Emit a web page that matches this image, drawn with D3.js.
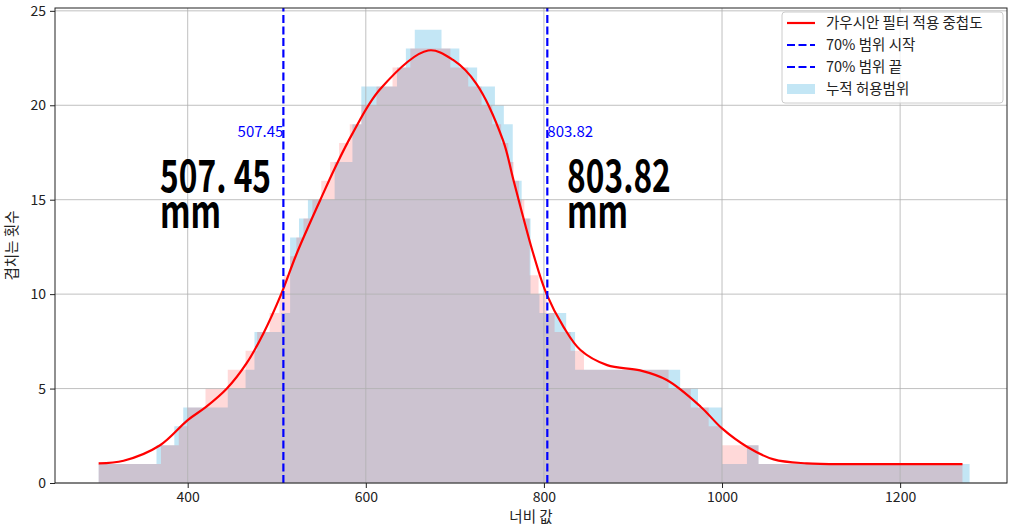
<!DOCTYPE html>
<html>
<head>
<meta charset="utf-8">
<script src="https://cdn.jsdelivr.net/npm/d3@7"></script>
<style>
  body { margin: 0; background: #fff; }
  svg { display: block; }
  text { font-family: "Noto Sans CJK KR", "Noto Sans", sans-serif; }
</style>
</head>
<body>
<svg id="chart" width="1009" height="528"></svg>
<script>
// bins of the accumulated range (left edges, last value is the right end)
const blueEdges = [300, 365, 385, 395, 445, 465, 475, 505, 515, 525, 535, 565, 585, 595, 635, 645, 655, 685, 705, 725,
                   745, 755, 765, 775, 785, 795, 805, 825, 835, 953, 973, 1000, 1028, 1041, 1278];
const blueCounts = [1, 2, 3, 4, 5, 6, 8, 9, 13, 14, 15, 17, 19, 21, 22, 23, 24, 23, 22, 21,
                    20, 19, 16, 14, 10, 9, 9, 8, 6, 5, 4, 1, 2, 1];

// stepped overlap after filtering
const pinkEdges = [300, 370, 390, 400, 420, 445, 465, 478, 492, 503, 508, 515, 522, 530, 540, 550, 560, 570, 582, 595,
                   612, 630, 650, 695, 715, 730, 742, 752, 760, 766, 772, 778, 784, 794, 803, 812, 830, 845, 940, 965,
                   985, 1000, 1041, 1270];
const pinkCounts = [1, 2, 3, 4, 5, 6, 7, 8, 9, 10, 11, 12, 13, 14, 15, 16, 17, 18, 19, 20,
                    21, 22, 23, 22, 21, 20, 19, 18, 17, 16, 15, 14, 11, 10, 9, 8, 7, 6, 5, 4,
                    3, 2, 1];

// gaussian filtered curve
const curveX = [300, 328, 369, 400, 421, 444, 466, 485, 505, 522, 549, 566, 585, 616, 670, 698, 724, 754,
                766, 788, 803, 822, 841, 871, 908, 938, 976, 1000, 1028, 1058, 1095, 1150, 1270];
const curveY = [1.04, 1.18, 2.0, 3.33, 4.04, 5.0, 6.33, 7.92, 10.0, 12.1, 15.0, 16.75, 18.5, 20.85, 22.9, 22.4, 21.15, 18.15,
                16.0, 12.15, 10.0, 8.27, 7.04, 6.24, 5.96, 5.45, 4.04, 2.89, 1.92, 1.25, 1.04, 1.0, 1.0];

const rangeStart = 507.45;
const rangeEnd = 803.82;

const xTicks = [400, 600, 800, 1000, 1200];
const yTicks = [0, 5, 10, 15, 20, 25];

const legendItems = [
  { label: "가우시안 필터 적용 중첩도", kind: "line" },
  { label: "70% 범위 시작", kind: "dash" },
  { label: "70% 범위 끝", kind: "dash" },
  { label: "누적 허용범위", kind: "patch" }
];

const svg = d3.select("#chart");
const margin = { left: 55, top: 8, right: 2, bottom: 45 };
const W = 1009, H = 528;
const x = d3.scaleLinear().domain([251, 1320]).range([margin.left, W - margin.right]);
const y = d3.scaleLinear().domain([0, 25.15]).range([H - margin.bottom, margin.top]);

function steps(edges, vals) {
  const pts = [];
  vals.forEach((v, i) => { pts.push([edges[i], v]); pts.push([edges[i + 1], v]); });
  return pts;
}

const area = d3.area().x(d => x(d[0])).y0(y(0)).y1(d => y(d[1]));

svg.append("path")
  .attr("d", area(steps(blueEdges, blueCounts)))
  .attr("fill", "skyblue")
  .attr("fill-opacity", 0.5);

svg.append("path")
  .attr("d", area(steps(pinkEdges, pinkCounts)))
  .attr("fill", "red")
  .attr("fill-opacity", 0.15);

// grid
const grid = svg.append("g").attr("stroke", "#b0b0b0").attr("stroke-width", 0.8);
xTicks.forEach(t => grid.append("line").attr("x1", x(t)).attr("x2", x(t)).attr("y1", y.range()[0]).attr("y2", y.range()[1]));
yTicks.forEach(t => grid.append("line").attr("y1", y(t)).attr("y2", y(t)).attr("x1", x.range()[0]).attr("x2", x.range()[1]));

// curve
svg.append("path")
  .datum(curveX.map((d, i) => [d, curveY[i]]))
  .attr("fill", "none")
  .attr("stroke", "red")
  .attr("stroke-width", 2.2)
  .attr("d", d3.line().x(d => x(d[0])).y(d => y(d[1])).curve(d3.curveCatmullRom.alpha(0.5)));

// range lines
[rangeStart, rangeEnd].forEach(v => {
  svg.append("line")
    .attr("x1", x(v)).attr("x2", x(v))
    .attr("y1", y.range()[0]).attr("y2", y.range()[1])
    .attr("stroke", "blue").attr("stroke-width", 2.2)
    .attr("stroke-dasharray", "8,3.5");
});

svg.append("text").attr("x", x(rangeStart)).attr("y", y(18.3))
  .attr("text-anchor", "end").attr("fill", "blue").attr("font-size", 15)
  .text(rangeStart.toFixed(2));
svg.append("text").attr("x", x(rangeEnd)).attr("y", y(18.3))
  .attr("text-anchor", "start").attr("fill", "blue").attr("font-size", 15)
  .text(rangeEnd.toFixed(2));

// big labels (condensed by a horizontal squeeze)
const big = [{ v: 369, lines: ["507. 45", "mm"] }, { v: 826, lines: ["803.82", "mm"] }];
big.forEach(b => {
  const t = svg.append("g").attr("transform", `translate(${x(b.v)},${y(15.4)}) scale(0.72,1)`)
    .append("text")
    .attr("font-family", "'Liberation Sans', Arial, sans-serif")
    .attr("font-weight", "bold").attr("font-size", 44).attr("fill", "#000");
  b.lines.forEach((l, i) => t.append("tspan").attr("x", 0).attr("y", i * 36).text(l));
});

// axes
const xAxis = svg.append("g").attr("transform", `translate(0,${y(0)})`)
  .call(d3.axisBottom(x).tickValues(xTicks).tickSize(5).tickPadding(4).tickFormat(d3.format("d")));
const yAxis = svg.append("g").attr("transform", `translate(${x.range()[0]},0)`)
  .call(d3.axisLeft(y).tickValues(yTicks).tickSize(5).tickPadding(4));
[xAxis, yAxis].forEach(a => {
  a.select(".domain").remove();
  a.selectAll("text").attr("font-size", 14).attr("fill", "#222")
    .attr("font-family", "'Noto Sans CJK KR', sans-serif");
  a.selectAll("line").attr("stroke", "#222");
});

// frame
svg.append("rect")
  .attr("x", x.range()[0]).attr("y", y.range()[1])
  .attr("width", x.range()[1] - x.range()[0]).attr("height", y.range()[0] - y.range()[1])
  .attr("fill", "none").attr("stroke", "#222").attr("stroke-width", 1);

svg.append("text").attr("x", (x.range()[0] + x.range()[1]) / 2).attr("y", 522)
  .attr("text-anchor", "middle").attr("font-size", 14.5).attr("fill", "#222").text("너비 값");
svg.append("text").attr("transform", `translate(17,${(y.range()[0] + y.range()[1]) / 2}) rotate(-90)`)
  .attr("text-anchor", "middle").attr("font-size", 14.5).attr("fill", "#222").text("겹치는 횟수");

// legend
const lg = svg.append("g").attr("transform", "translate(782,12)");
lg.append("rect").attr("width", 221).attr("height", 91).attr("rx", 3)
  .attr("fill", "#fff").attr("fill-opacity", 0.8).attr("stroke", "#ccc");
legendItems.forEach((d, i) => {
  const cy = 11 + i * 22;
  if (d.kind === "patch") {
    lg.append("rect").attr("x", 5).attr("y", cy - 5).attr("width", 28).attr("height", 10)
      .attr("fill", "skyblue").attr("fill-opacity", 0.5);
  } else {
    lg.append("line").attr("x1", 5).attr("x2", 33).attr("y1", cy).attr("y2", cy)
      .attr("stroke", d.kind === "line" ? "red" : "blue").attr("stroke-width", 2.2)
      .attr("stroke-dasharray", d.kind === "dash" ? "8,3.5" : null);
  }
  lg.append("text").attr("x", 44).attr("y", cy + 5).attr("font-size", 14.5).attr("fill", "#222").text(d.label);
});
</script>
</body>
</html>
